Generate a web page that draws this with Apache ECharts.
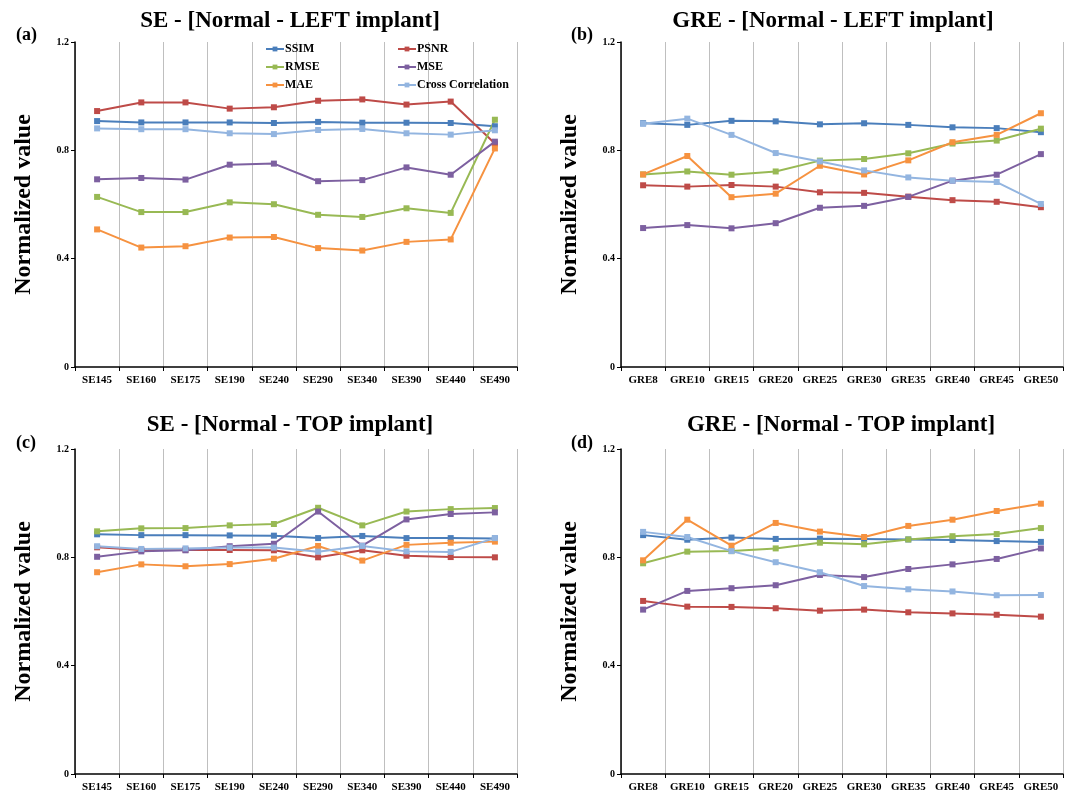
<!DOCTYPE html>
<html><head><meta charset="utf-8">
<script src="https://cdn.jsdelivr.net/npm/echarts@6/dist/echarts.min.js"></script>
<style>html,body{margin:0;padding:0;background:#fff}#c{width:1070px;height:796px}</style>
</head><body><div id="c"></div>
<script>
const seCats = ['SE145','SE160','SE175','SE190','SE240','SE290','SE340','SE390','SE440','SE490'];
const greCats = ['GRE8','GRE10','GRE15','GRE20','GRE25','GRE30','GRE35','GRE40','GRE45','GRE50'];
const metricNames = ['SSIM','PSNR','RMSE','MSE','MAE','Cross Correlation'];
const yTicks = [0, 0.4, 0.8, 1.2];

// (a) SE - LEFT
const aSSIM = [0.908,0.903,0.903,0.903,0.901,0.905,0.902,0.902,0.901,0.889];
const aPSNR = [0.945,0.977,0.977,0.954,0.959,0.983,0.988,0.969,0.980,0.825];
const aRMSE = [0.628,0.572,0.572,0.608,0.601,0.562,0.554,0.586,0.569,0.913];
const aMSE  = [0.693,0.698,0.692,0.747,0.751,0.686,0.690,0.737,0.710,0.832];
const aMAE  = [0.508,0.441,0.446,0.478,0.480,0.439,0.430,0.462,0.471,0.807];
const aCC   = [0.881,0.878,0.878,0.863,0.860,0.875,0.879,0.863,0.858,0.874];
// (b) GRE - LEFT
const bSSIM = [0.900,0.894,0.909,0.907,0.896,0.900,0.894,0.885,0.882,0.867];
const bPSNR = [0.671,0.666,0.672,0.666,0.645,0.643,0.629,0.616,0.610,0.590];
const bRMSE = [0.711,0.722,0.710,0.722,0.762,0.768,0.789,0.825,0.836,0.880];
const bMSE  = [0.513,0.524,0.512,0.531,0.588,0.595,0.628,0.688,0.710,0.786];
const bMAE  = [0.711,0.779,0.627,0.640,0.743,0.711,0.763,0.830,0.857,0.937];
const bCC   = [0.898,0.917,0.857,0.790,0.759,0.726,0.700,0.688,0.683,0.602];
// (c) SE - TOP
const cSSIM = [0.885,0.882,0.882,0.881,0.880,0.871,0.879,0.871,0.871,0.870];
const cPSNR = [0.837,0.827,0.828,0.827,0.826,0.800,0.826,0.806,0.801,0.800];
const cRMSE = [0.896,0.907,0.908,0.918,0.923,0.983,0.918,0.969,0.978,0.982];
const cMSE  = [0.802,0.822,0.826,0.841,0.850,0.969,0.843,0.940,0.960,0.966];
const cMAE  = [0.745,0.774,0.767,0.775,0.795,0.842,0.788,0.846,0.854,0.858];
const cCC   = [0.841,0.831,0.833,0.836,0.836,0.821,0.842,0.822,0.820,0.871];
// (d) GRE - TOP
const dSSIM = [0.882,0.865,0.873,0.868,0.869,0.868,0.866,0.864,0.860,0.857];
const dPSNR = [0.639,0.618,0.617,0.612,0.603,0.607,0.597,0.593,0.588,0.581];
const dRMSE = [0.778,0.821,0.823,0.833,0.854,0.848,0.866,0.878,0.886,0.908];
const dMSE  = [0.607,0.676,0.686,0.697,0.735,0.727,0.757,0.774,0.794,0.833];
const dMAE  = [0.789,0.939,0.843,0.927,0.895,0.875,0.916,0.939,0.971,0.998];
const dCC   = [0.894,0.875,0.823,0.782,0.745,0.694,0.682,0.674,0.660,0.661];

const panels = [
  {cats: seCats, data: [aSSIM,aPSNR,aRMSE,aMSE,aMAE,aCC]},
  {cats: greCats, data: [bSSIM,bPSNR,bRMSE,bMSE,bMAE,bCC]},
  {cats: seCats, data: [cSSIM,cPSNR,cRMSE,cMSE,cMAE,cCC]},
  {cats: greCats, data: [dSSIM,dPSNR,dRMSE,dMSE,dMAE,dCC]}
];
const colors = ['#4A7EBB','#BE4B48','#98B954','#7D60A0','#F69240','#93B5E0'];
const FONT = '"Liberation Serif","Times New Roman",serif';

const grids = [
  {left:75, top:42, width:442, height:325},
  {left:621, top:42, width:442, height:325},
  {left:75, top:449, width:442, height:325},
  {left:621, top:449, width:442, height:325}
];

const xAxis = panels.map((p,i)=>({
  type:'category', gridIndex:i, data:p.cats, boundaryGap:true,
  axisLine:{lineStyle:{color:'#000', width:1.5}},
  axisTick:{show:true, length:4, lineStyle:{color:'#000'}},
  axisLabel:{interval:0, color:'#000', fontFamily:FONT, fontWeight:'bold', fontSize:11, margin:8},
  splitLine:{show:true, lineStyle:{color:'#BFBFBF', width:1}}
}));
const yAxis = panels.map((p,i)=>({
  type:'value', gridIndex:i, min:yTicks[0], max:yTicks[yTicks.length-1], interval:0.4,
  name:'Normalized value', nameLocation:'middle', nameGap:39, nameRotate:90,
  nameTextStyle:{fontFamily:FONT, fontWeight:'bold', fontSize:24, color:'#000'},
  axisLine:{show:true, lineStyle:{color:'#000', width:1.5}},
  axisTick:{show:true, length:4, lineStyle:{color:'#000'}},
  axisLabel:{color:'#000', fontFamily:FONT, fontWeight:'bold', fontSize:10, margin:6,
    formatter:v=>String(Math.round(v*10)/10)},
  splitLine:{show:false}
}));

const series = [];
panels.forEach((p,i)=>{
  p.data.forEach((arr,k)=>{
    series.push({
      type:'line', name:metricNames[k], xAxisIndex:i, yAxisIndex:i, data:arr,
      symbol:'rect', symbolSize:6, color:colors[k],
      lineStyle:{width:2, color:colors[k]}, itemStyle:{color:colors[k]},
      emphasis:{disabled:true}, animation:false
    });
  });
});

const titleStyle = {fontFamily:FONT, fontWeight:'bold', fontSize:23, color:'#000'};
const letterStyle = {fontFamily:FONT, fontWeight:'bold', fontSize:18, color:'#000'};
const title = [
  {text:'SE - [Normal - LEFT implant]', left:285, top:5, textAlign:'center', textStyle:titleStyle},
  {text:'GRE - [Normal - LEFT implant]', left:828, top:5, textAlign:'center', textStyle:titleStyle},
  {text:'SE - [Normal - TOP implant]', left:285, top:409, textAlign:'center', textStyle:titleStyle},
  {text:'GRE - [Normal - TOP implant]', left:836, top:409, textAlign:'center', textStyle:titleStyle},
  {text:'(a)', left:11, top:21, textStyle:letterStyle},
  {text:'(b)', left:566, top:21, textStyle:letterStyle},
  {text:'(c)', left:11, top:429, textStyle:letterStyle},
  {text:'(d)', left:566, top:429, textStyle:letterStyle}
];
const legendCommon = {orient:'vertical', itemWidth:18, itemHeight:6, itemGap:6,
  textStyle:{fontFamily:FONT, fontWeight:'bold', fontSize:12, color:'#000', padding:[0,0,0,-4]},
  selectedMode:false, padding:0};
const legend = [
  Object.assign({left:265, top:43, data:['SSIM','RMSE','MAE']}, legendCommon),
  Object.assign({left:397, top:43, data:['PSNR','MSE','Cross Correlation']}, legendCommon)
];

const chart = echarts.init(document.getElementById('c'), null, {renderer:'canvas'});
chart.setOption({animation:false, backgroundColor:'#fff', title, legend, grid:grids, xAxis, yAxis, series});
</script></body></html>
